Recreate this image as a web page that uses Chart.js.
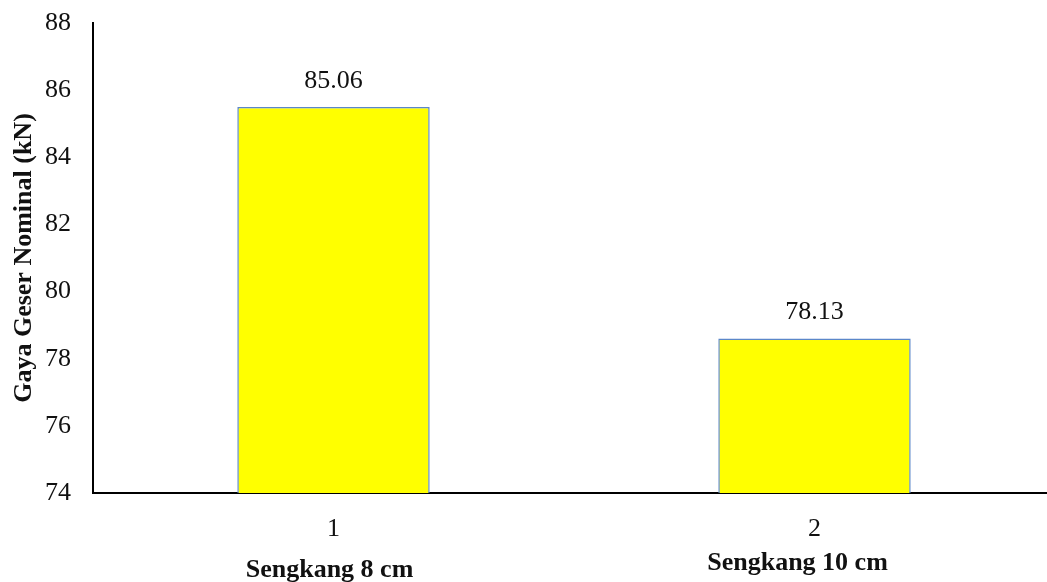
<!DOCTYPE html>
<html>
<head>
<meta charset="utf-8">
<script src="https://cdn.jsdelivr.net/npm/chart.js@4"></script>
<style>
  html, body { margin: 0; padding: 0; background: #fff; overflow: hidden; }
  #wrap { width: 1055px; height: 582px; position: relative; }
</style>
</head>
<body>
<div id="wrap"><canvas id="chart"></canvas></div>
<script>
// Values
const categories = ['1', '2'];
const groupNames = ['Sengkang 8 cm', 'Sengkang 10 cm'];
const barValues = [85.5, 78.6];
const valueLabels = ['85.06', '78.13'];

const FONT = '"Liberation Serif", "Times New Roman", serif';
const TEXT = '#111';

// value labels above bars + bold group names under the tick numbers
const annotate = {
  id: 'annotate',
  afterDatasetsDraw(chart) {
    const ctx = chart.ctx;
    const meta = chart.getDatasetMeta(0);
    const xs = chart.scales.x;
    const bottom = chart.chartArea.bottom;
    const nameShift = [[-4, 77], [-17, 70]];
    ctx.save();
    ctx.fillStyle = TEXT;
    ctx.textAlign = 'center';
    ctx.textBaseline = 'middle';
    ctx.font = '26px ' + FONT;
    meta.data.forEach((bar, i) => {
      ctx.fillText(valueLabels[i], bar.x, bar.y - 26);
    });
    ctx.font = 'bold 26px ' + FONT;
    groupNames.forEach((name, i) => {
      const x = xs.getPixelForValue(i) + nameShift[i][0];
      ctx.fillText(name, x, bottom + nameShift[i][1]);
    });
    ctx.restore();
  }
};

new Chart(document.getElementById('chart'), {
  type: 'bar',
  data: {
    labels: categories,
    datasets: [{
      data: barValues,
      backgroundColor: '#ffff00',
      borderColor: '#5b87c9',
      borderWidth: 1.5,
      barPercentage: 0.4,
      categoryPercentage: 1.0
    }]
  },
  options: {
    responsive: true,
    maintainAspectRatio: false,
    animation: false,
    layout: { padding: { top: 23, left: 0, right: 0, bottom: 0 } },
    plugins: {
      legend: { display: false },
      tooltip: { enabled: false }
    },
    scales: {
      y: {
        min: 74,
        max: 88,
        afterFit: s => { s.width = 93; s.paddingTop = 0; s.paddingBottom = 0; },
        ticks: {
          stepSize: 2,
          padding: 22,
          color: TEXT,
          font: { family: FONT, size: 26 }
        },
        grid: { display: true, drawOnChartArea: false, drawTicks: false },
        border: { display: true, color: '#000', width: 2 },
        title: {
          display: true,
          text: 'Gaya Geser Nominal (kN)',
          color: TEXT,
          padding: { top: 9, bottom: 6 },
          font: { family: FONT, size: 26, weight: 'bold' }
        }
      },
      x: {
        afterFit: s => { s.height = 89; s.paddingLeft = 0; s.paddingRight = 0; },
        ticks: {
          padding: 21,
          color: TEXT,
          font: { family: FONT, size: 26 }
        },
        grid: { display: true, drawOnChartArea: false, drawTicks: false },
        border: { display: true, color: '#000', width: 2 }
      }
    }
  },
  plugins: [annotate]
});
</script>
</body>
</html>
